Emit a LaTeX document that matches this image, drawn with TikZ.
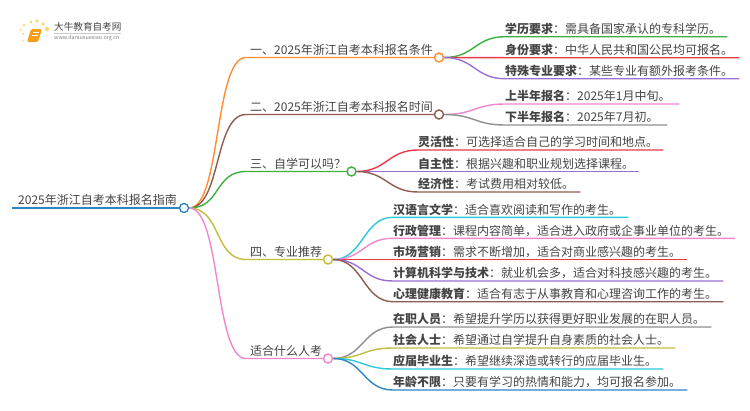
\documentclass[tikz,border=0pt]{standalone}
\usepackage{fontspec}
\setmainfont{Noto Sans CJK SC}
\usepackage{xcolor}
\usetikzlibrary{positioning}
\definecolor{rootblue}{RGB}{46,134,193}
\definecolor{lineorange}{RGB}{255,140,46}
\definecolor{linebrown}{RGB}{141,91,79}
\definecolor{linegreen}{RGB}{60,176,67}
\definecolor{linered}{RGB}{232,57,74}
\definecolor{linepurple}{RGB}{155,111,207}
\definecolor{linepink}{RGB}{239,134,208}
\definecolor{linegray}{RGB}{143,143,143}
\definecolor{linecyan}{RGB}{44,200,220}
\definecolor{lineyellow}{RGB}{196,188,58}
\definecolor{lineblue}{RGB}{45,133,197}
\definecolor{textgray}{RGB}{68,68,68}
\definecolor{logoorange}{RGB}{245,158,30}
\definecolor{logodot}{RGB}{253,214,120}

\begin{document}
\begin{tikzpicture}[
  x=1pt, y=-1pt,
  every node/.style={align=left, text=textgray},
  branch/.style={
    anchor=south west, inner xsep=4pt, inner ysep=0pt,
    text height=9pt, text depth=3pt,
    font=\fontsize{12}{14}\selectfont
  },
  leaf/.style={
    anchor=south west, inner sep=0pt,
    text height=9pt, text depth=3pt, text width=#1,
    font=\fontsize{12}{14}\selectfont
  },
  knot/.style={
    draw, circle, fill=white, line width=1.4pt,
    minimum size=9pt, inner sep=0pt
  },
  arr/.style={line width=1.4pt},
  curve/.style={out=0, in=180, distance=#1},
]

\useasboundingbox (0,0) rectangle (750,410);

%% ─── Logo ────────────────────────────────────────────────────────────────────

\foreach \dx/\dy/\rr in {23/34/1.1, 21/30/1.2, 24/25/1.5, 31/22/1.7, 37/21/1.8, 43/24/1.9, 47/29/2.2, 23/41/0.8}{
  \fill[logodot] (\dx,\dy) circle (\rr);
}
\fill[logoorange, rounded corners=1.5pt] (31,29) -- (42,29) -- (38,42) -- (27,42) -- cycle;
\draw[white, line width=0.6pt] (33,32) -- (39,32) (32,35) -- (38,35);
\node[inner sep=0pt, anchor=west, font=\fontsize{9.6}{11}\selectfont] (logotitle) at (54,27) {大牛教育自考网};
\node[inner sep=0pt, anchor=west, text=gray, font=\fontsize{5.4}{7}\selectfont] (logourl) at (54,38.5) {www.daniuxuexiao.org.cn};
\draw[gray!40, line width=0.5pt] (54,33) -- (121,33);

%% ─── Root ────────────────────────────────────────────────────────────────────

\node[branch] (root) at (14,208) {2025年浙江自考本科报名指南};
\node[knot, draw=rootblue] (c0) at (184,208) {};

%% ─── Main branches ───────────────────────────────────────────────────────────

\node[branch] (t1) at (246,57.5) {一、2025年浙江自考本科报名条件};
\node[branch] (t2) at (246,114.5) {二、2025年浙江自考本科报名时间};
\node[branch] (t3) at (246,171.5) {三、自学可以吗？};
\node[branch] (t4) at (246,259.5) {四、专业推荐};
\node[branch] (t5) at (246,358.5) {适合什么人考};

\node[knot, draw=lineorange] (c1) at (439,57.5) {};
\node[knot, draw=linebrown]  (c2) at (439,114.5) {};
\node[knot, draw=linegreen]  (c3) at (351.5,171.5) {};
\node[knot, draw=lineyellow] (c4) at (328,259.5) {};
\node[knot, draw=linepink]   (c5) at (328,358.5) {};

%% ─── Leaves ──────────────────────────────────────────────────────────────────

\node[leaf=222pt] (a1) at (505,36.7) {\textbf{学历要求}：需具备国家承认的专科学历。};
\node[leaf=234pt] (a2) at (505,57.7) {\textbf{身份要求}：中华人民共和国公民均可报名。};
\node[leaf=234pt] (a3) at (505,78.7) {\textbf{特殊专业要求}：某些专业有额外报考条件。};

\node[leaf=174pt] (b1) at (505,104) {\textbf{上半年报名}：2025年1月中旬。};
\node[leaf=162pt] (b2) at (505,125) {\textbf{下半年报名}：2025年7月初。};

\node[leaf=245pt] (d1) at (418,150) {\textbf{灵活性}：可选择适合自己的学习时间和地点。};
\node[leaf=221pt] (d2) at (418,171.5) {\textbf{自主性}：根据兴趣和职业规划选择课程。};
\node[leaf=162pt] (d3) at (418,192) {\textbf{经济性}：考试费用相对较低。};

\node[leaf=235pt] (e1) at (393,217.3) {\textbf{汉语言文学}：适合喜欢阅读和写作的考生。};
\node[leaf=342pt] (e2) at (393,238.3) {\textbf{行政管理}：课程内容简单，适合进入政府或企事业单位的考生。};
\node[leaf=294pt] (e3) at (393,259.5) {\textbf{市场营销}：需求不断增加，适合对商业感兴趣的考生。};
\node[leaf=330pt] (e4) at (393,281) {\textbf{计算机科学与技术}：就业机会多，适合对科技感兴趣的考生。};
\node[leaf=330pt] (e5) at (393,301.7) {\textbf{心理健康教育}：适合有志于从事教育和心理咨询工作的考生。};

\node[leaf=318pt] (f1) at (393,327) {\textbf{在职人员}：希望提升学历以获得更好职业发展的在职人员。};
\node[leaf=282pt] (f2) at (393,348) {\textbf{社会人士}：希望通过自学提升自身素质的社会人士。};
\node[leaf=270pt] (f3) at (393,369) {\textbf{应届毕业生}：希望继续深造或转行的应届毕业生。};
\node[leaf=294pt] (f4) at (393,390) {\textbf{年龄不限}：只要有学习的热情和能力，均可报名参加。};

%% ─── Connectors ──────────────────────────────────────────────────────────────

\draw[arr, rootblue] ([xshift=-2pt]root.south west) -- (c0.west);

\draw[arr, lineorange] (c0.east) to[curve=32pt] (t1.south west) -- (c1.west);
\draw[arr, linebrown]  (c0.east) to[curve=32pt] (t2.south west) -- (c2.west);
\draw[arr, linegreen]  (c0.east) to[curve=32pt] (t3.south west) -- (c3.west);
\draw[arr, lineyellow] (c0.east) to[curve=32pt] (t4.south west) -- (c4.west);
\draw[arr, linepink]   (c0.east) to[curve=32pt] (t5.south west) -- (c5.west);

\foreach \nd/\cl in {a1/linegreen, a2/linered, a3/linepurple}{
  \draw[arr, \cl] (c1.east) to[curve=30pt] (\nd.south west) -- (\nd.south east);
}
\foreach \nd/\cl in {b1/linepink, b2/linegray}{
  \draw[arr, \cl] (c2.east) to[curve=30pt] (\nd.south west) -- (\nd.south east);
}
\foreach \nd/\cl in {d1/linered, d2/linepurple, d3/linebrown}{
  \draw[arr, \cl] (c3.east) to[curve=30pt] (\nd.south west) -- (\nd.south east);
}
\foreach \nd/\cl in {e1/linecyan, e2/linepink, e3/linered, e4/linepurple, e5/linebrown}{
  \draw[arr, \cl] (c4.east) to[curve=30pt] (\nd.south west) -- (\nd.south east);
}
\foreach \nd/\cl in {f1/linegray, f2/lineyellow, f3/linecyan, f4/lineblue}{
  \draw[arr, \cl] (c5.east) to[curve=30pt] (\nd.south west) -- (\nd.south east);
}

\end{tikzpicture}
\end{document}
